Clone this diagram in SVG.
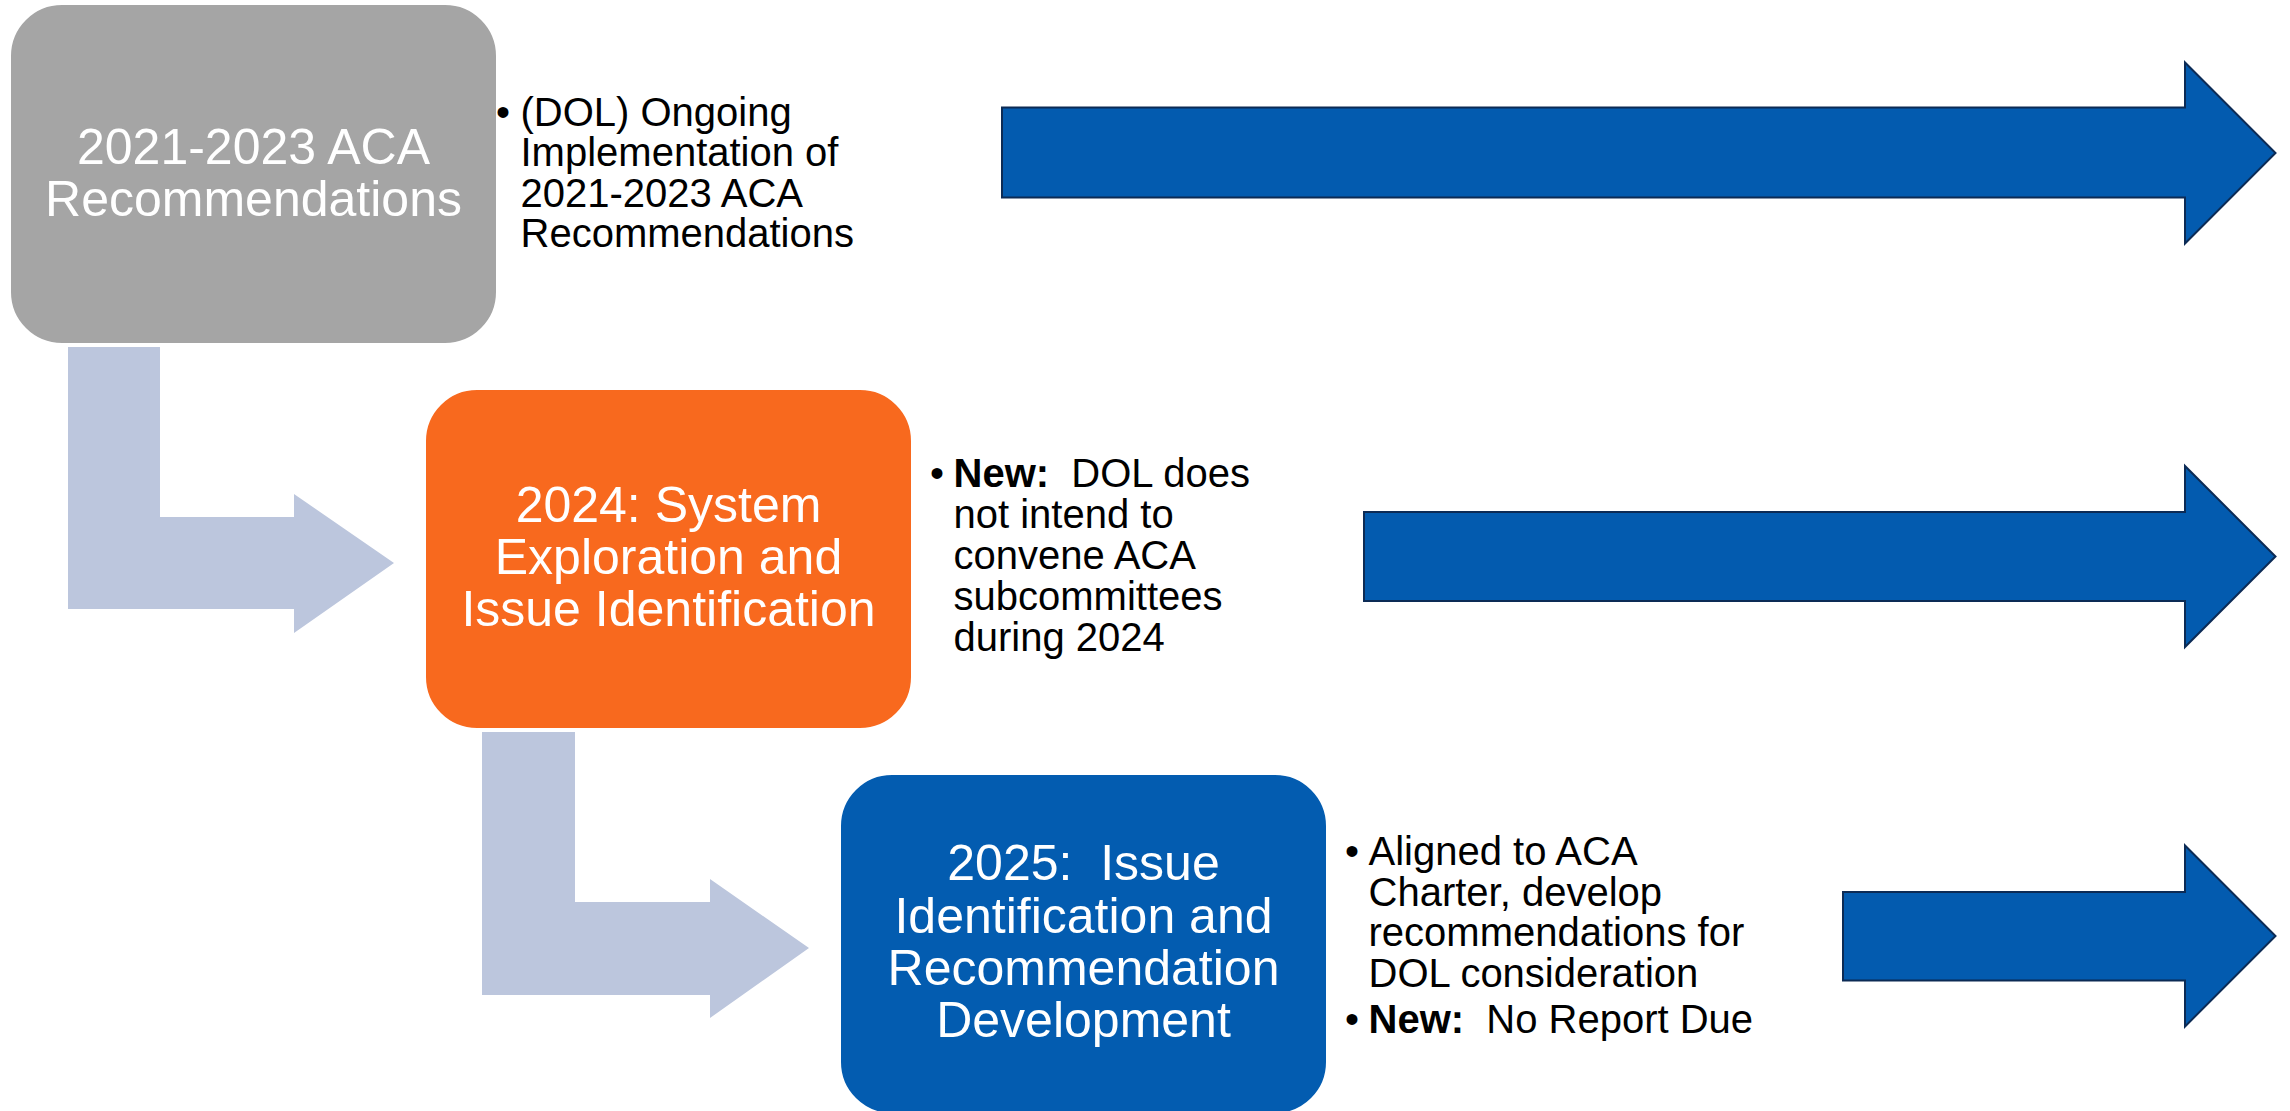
<svg xmlns="http://www.w3.org/2000/svg" width="2290" height="1111" viewBox="0 0 2290 1111">
  <style>
    .box { stroke: #ffffff; stroke-width: 2; }
    .title { font-family: "Liberation Sans", Arial, sans-serif; font-size: 50px; fill: #ffffff; text-anchor: middle; }
    .bul { font-family: "Liberation Sans", Arial, sans-serif; font-size: 40px; fill: #000000; }
    .b { font-weight: bold; }
    .elbow { fill: #BCC6DD; stroke: none; }
    .timeline { fill: #035BAF; stroke: #0C2B55; stroke-width: 2; stroke-linejoin: miter; }
  </style>
  <rect width="2290" height="1111" fill="#ffffff"/>

  <g id="connectors">
    <polygon class="elbow" points="68,347 160,347 160,517 294,517 294,494 394,563 294,633 294,609 68,609"/>
    <polygon class="elbow" points="482,732 575,732 575,902 710,902 710,879 809,948 710,1018 710,995 482,995"/>
    <polygon class="timeline" points="1002,107.5 2185,107.5 2185,62.5 2275.5,153 2185,243.5 2185,197.5 1002,197.5"/>
    <polygon class="timeline" points="1364,512 2185,512 2185,466 2275.5,556.5 2185,647 2185,601 1364,601"/>
    <polygon class="timeline" points="1843,892 2185,892 2185,845.5 2275.5,936 2185,1026.5 2185,980.5 1843,980.5"/>
  </g>

  <g id="node-2021-2023">
    <rect class="box" x="10" y="4" width="487" height="340" rx="52" ry="52" fill="#A5A5A5"/>
    <text class="title" x="253.5" y="163.5">2021-2023 ACA</text>
    <text class="title" x="253.5" y="215.5">Recommendations</text>
  </g>
  <g id="notes-2021-2023">
    <text class="bul" x="496" y="125.5">•</text>
    <text class="bul" x="520.5" y="125.5">(DOL) Ongoing</text>
    <text class="bul" x="520.5" y="166">Implementation of</text>
    <text class="bul" x="520.5" y="206.5">2021-2023 ACA</text>
    <text class="bul" x="520.5" y="247">Recommendations</text>
  </g>

  <g id="node-2024">
    <rect class="box" x="425" y="389" width="487" height="340" rx="52" ry="52" fill="#F8691E"/>
    <text class="title" x="668.5" y="522">2024: System</text>
    <text class="title" x="668.5" y="574">Exploration and</text>
    <text class="title" x="668.5" y="626">Issue Identification</text>
  </g>
  <g id="notes-2024">
    <text class="bul" x="930" y="487">•</text>
    <text class="bul" x="953.5" y="487" xml:space="preserve"><tspan class="b">New:</tspan>  DOL does</text>
    <text class="bul" x="953.5" y="528">not intend to</text>
    <text class="bul" x="953.5" y="569">convene ACA</text>
    <text class="bul" x="953.5" y="610">subcommittees</text>
    <text class="bul" x="953.5" y="651">during 2024</text>
  </g>

  <g id="node-2025">
    <rect class="box" x="840" y="774" width="487" height="340" rx="52" ry="52" fill="#035CB0"/>
    <text class="title" x="1083.5" y="880" xml:space="preserve">2025:  Issue</text>
    <text class="title" x="1083.5" y="932.5">Identification and</text>
    <text class="title" x="1083.5" y="985">Recommendation</text>
    <text class="title" x="1083.5" y="1037">Development</text>
  </g>
  <g id="notes-2025">
    <text class="bul" x="1345" y="865">•</text>
    <text class="bul" x="1368.5" y="865">Aligned to ACA</text>
    <text class="bul" x="1368.5" y="905.5">Charter, develop</text>
    <text class="bul" x="1368.5" y="946">recommendations for</text>
    <text class="bul" x="1368.5" y="986.5">DOL consideration</text>
    <text class="bul" x="1345" y="1033">•</text>
    <text class="bul" x="1368.5" y="1033" xml:space="preserve"><tspan class="b">New:</tspan>  No Report Due</text>
  </g>
</svg>
